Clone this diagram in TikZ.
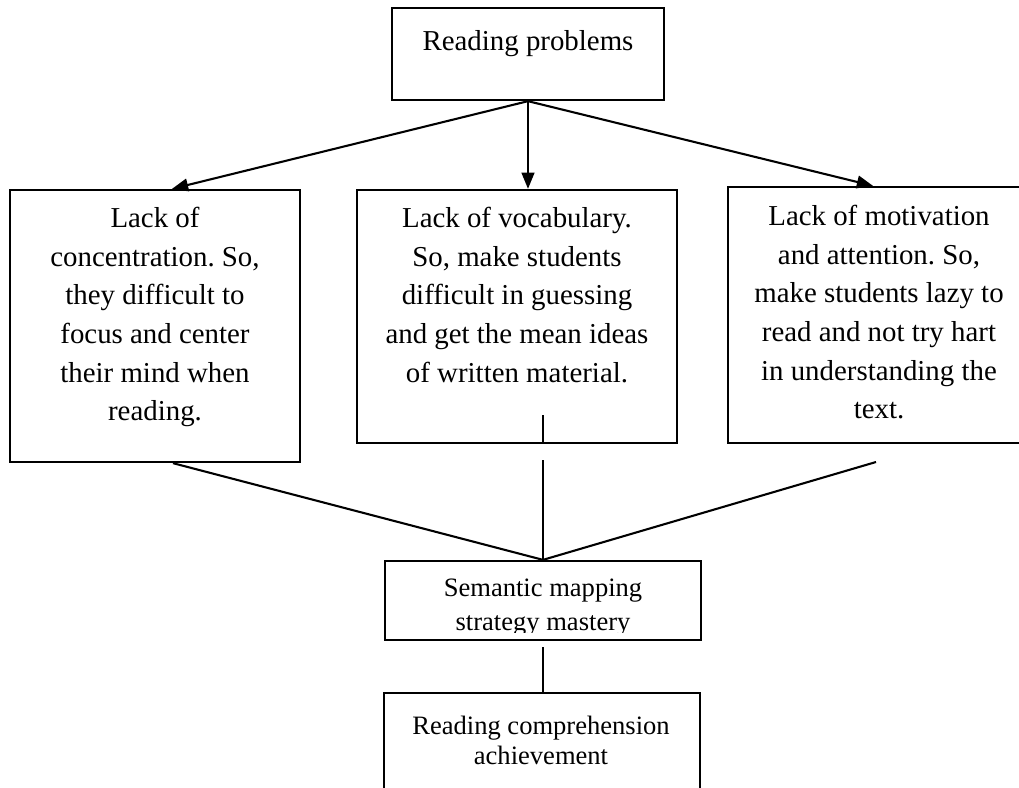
\documentclass[tikz,border=0pt]{standalone}
\usepackage{fontspec}
\setmainfont{Liberation Serif}
\usetikzlibrary{arrows.meta}
\frenchspacing
\begin{document}
\begin{tikzpicture}[x=0.433pt,y=-0.433pt,
  box/.style={draw,line width=1pt,inner sep=0pt},
  txt/.style={inner sep=0pt,align=center,font=\fontsize{12.5}{16.7}\selectfont},
  stxt/.style={inner sep=0pt,align=center,font=\fontsize{11.5}{14.7}\selectfont},
  btxt/.style={inner sep=0pt,align=center,font=\fontsize{11.5}{12.6}\selectfont},
  conn/.style={line width=0.9pt},
  arr/.style={conn,-{Triangle[length=7pt,width=5.5pt]}}]
\useasboundingbox (0,0) rectangle (1019,787);
\clip (0,0) rectangle (1019,787);
% boxes
\node[box,minimum width={272*0.433pt},minimum height={92*0.433pt}] (T) at (528,54) {};
\node[box,minimum width={290*0.433pt},minimum height={272*0.433pt}] (L) at (155,326) {};
\node[box,minimum width={320*0.433pt},minimum height={253*0.433pt}] (M) at (517,316.5) {};
\node[box,minimum width={302*0.433pt},minimum height={256*0.433pt}] (R) at (879,315) {};
\node[box,minimum width={316*0.433pt},minimum height={79*0.433pt}] (S) at (543,600.5) {};
\node[box,minimum width={316*0.433pt},minimum height={107*0.433pt}] (B) at (542,746.5) {};
% texts
\node[txt,anchor=north] (Tt) at (528,30) {Reading problems};
\node[txt,anchor=north] (Lt) at (155,207) {Lack of\\concentration. So,\\they difficult to\\focus and center\\their mind when\\reading.};
\node[txt,anchor=north] (Mt) at (517,207) {Lack of vocabulary.\\So, make students\\difficult in guessing\\and get the mean ideas\\of written material.};
\node[txt,anchor=north] (Rt) at (879,205) {Lack of motivation\\and attention. So,\\make students lazy to\\read and not try hart\\in understanding the\\text.};
\begin{scope}
\clip (380,540) rectangle (710,632);
\node[stxt,anchor=north] (St) at (543,578) {Semantic mapping\\strategy mastery};
\end{scope}
\node[btxt,anchor=north] (Bt) at (541,716) {Reading comprehension\\achievement};
% connectors
\draw[arr] (T.south) -- ([xshift={17*0.433pt}]L.north);
\draw[arr] (T.south) -- ([xshift={11*0.433pt}]M.north);
\draw[arr] (T.south) -- ([xshift={-6*0.433pt}]R.north);
\draw[conn] ([xshift={18*0.433pt}]L.south) -- (S.north);
\coordinate (r1) at (876,462);
\draw[conn] (r1) -- (S.north);
\coordinate (m1) at (543,415);
\draw[conn] (m1) -- (m1 |- M.south);
\coordinate (m2) at (543,460);
\draw[conn] (m2) -- (S.north);
\coordinate (s1) at (543,647);
\draw[conn] (s1) -- (s1 |- B.north);
\end{tikzpicture}
\end{document}
